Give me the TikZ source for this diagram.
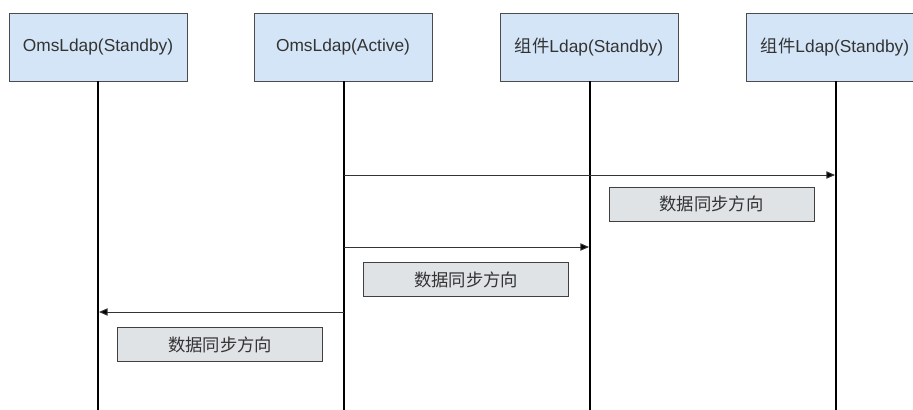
\documentclass[tikz,border=0pt]{standalone}
\usepackage{fontspec}
\setmainfont{Liberation Sans}
\newfontfamily\cjk{Noto Sans CJK SC}
\usepackage{tikz}
\usetikzlibrary{arrows.meta}
\definecolor{partyblue}{HTML}{D4E5F7}
\definecolor{notegray}{HTML}{E0E3E6}
\definecolor{textgray}{HTML}{333333}
\tikzset{
    party/.style={draw=black!70, fill=partyblue, minimum width=133.5pt, minimum height=51pt, inner sep=0pt, text=textgray, font=\fontsize{13}{15}\selectfont},
    note/.style={draw=black!75, fill=notegray, minimum width=153.5pt, minimum height=25.5pt, inner sep=0pt, text=textgray, font=\cjk\fontsize{13}{15}\selectfont},
    lifeline/.style={line width=1.4pt},
    message/.style={draw=black!80, line width=0.75pt, -{Triangle[length=6.5pt, width=5.5pt, fill=black]}}
}

\begin{document}
\begin{tikzpicture}[x=0.75pt, y=-0.75pt]
            \useasboundingbox (0,0) rectangle (913,410);
            \clip (0,0) rectangle (913,410);

            \node[party] (oms1) at (98,47) {OmsLdap(Standby)};
            \node[party] (oms2) at (343,47) {OmsLdap(Active)};
            \node[party] (comp1) at (589,47) {{\cjk 组件}Ldap(Standby)};
            \node[party] (comp2) at (835,47) {{\cjk 组件}Ldap(Standby)};

            \coordinate (oms1-end) at (98,412);
            \coordinate (oms2-end) at (344,412);
            \coordinate (comp1-end) at (590,412);
            \coordinate (comp2-end) at (836,412);

            \draw[lifeline] (oms1.south -| oms1-end) -- (oms1-end);
            \draw[lifeline] (oms2.south -| oms2-end) -- (oms2-end);
            \draw[lifeline] (comp1.south -| comp1-end) -- (comp1-end);
            \draw[lifeline] (comp2.south -| comp2-end) -- (comp2-end);

            \coordinate (m1-from) at (344,175);
            \coordinate (m1-to) at (835,175);
            \coordinate (m2-from) at (344,247);
            \coordinate (m2-to) at (589,247);
            \coordinate (m3-from) at (344,312);
            \coordinate (m3-to) at (99,312);

            \draw[message] (m1-from) -- (m1-to);
            \draw[message] (m2-from) -- (m2-to);
            \draw[message] (m3-from) -- (m3-to);

            \node[note] (note1) at (711.5,204) {数据同步方向};
            \node[note] (note2) at (466,279.5) {数据同步方向};
            \node[note] (note3) at (220,344.5) {数据同步方向};
        \end{tikzpicture}
\end{document}
